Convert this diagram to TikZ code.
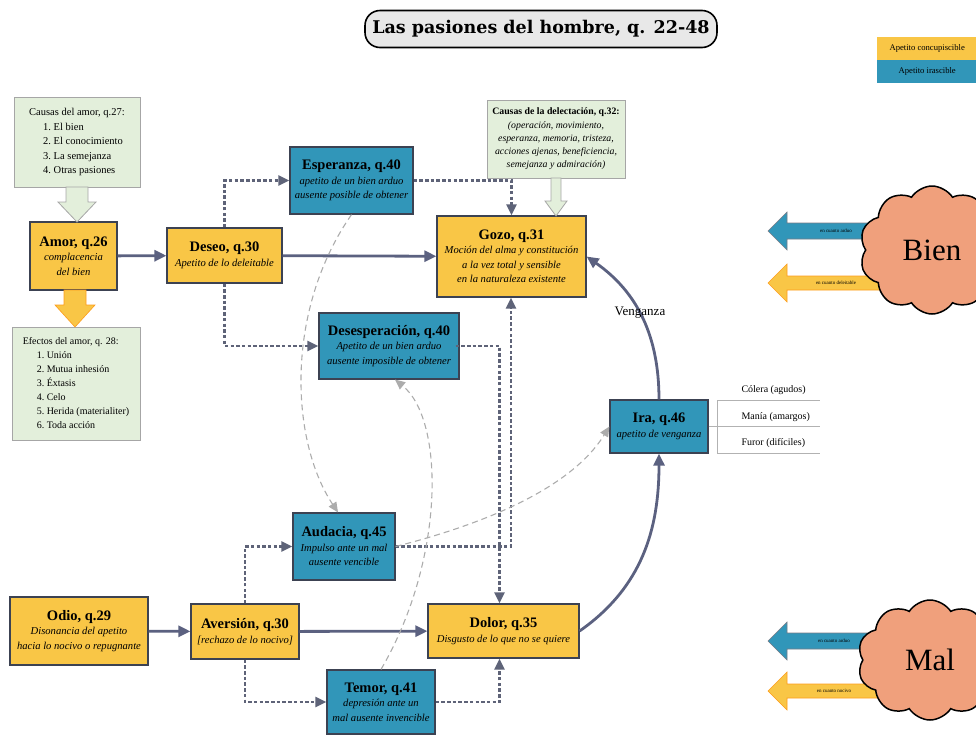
\documentclass[tikz,border=0pt]{standalone}
\usepackage{fontspec}
\setmainfont{Liberation Serif}
\newfontfamily\titlefont{DejaVu Serif}
\usetikzlibrary{arrows.meta,shapes.symbols,calc}
\definecolor{yel}{HTML}{F9C646}
\definecolor{blu}{HTML}{3196B9}
\definecolor{grn}{HTML}{E3EFDB}
\definecolor{bord}{HTML}{3C4252}
\definecolor{conn}{HTML}{5B6180}
\definecolor{dconn}{HTML}{5E6378}
\definecolor{salm}{HTML}{F0A07C}
\newcommand\hd[1]{{\fontsize{14.5}{17}\selectfont\bfseries #1}}
\newcommand\dsc[1]{{\itshape #1}}
\begin{document}
\begin{tikzpicture}[x=1pt,y=-1pt,
 box/.style={draw=bord,line width=1.2pt,align=center,inner sep=1pt,font=\fontsize{10.6}{14.5}\selectfont},
 ybox/.style={box,fill=yel},
 bbox/.style={box,fill=blu},
 gbox/.style={draw=gray!70,fill=grn,line width=0.8pt,align=left,inner sep=3pt,font=\fontsize{10.5}{14.5}\selectfont},
 solidarr/.style={draw=conn,line width=2.8pt,-{Triangle[length=12pt,width=11pt]}},
 dasharr/.style={draw=dconn,line width=2.4pt,dash pattern=on 3.5pt off 2.2pt,-{Triangle[length=11pt,width=10pt]}},
 thindash/.style={draw=gray!65,line width=1.1pt,dash pattern=on 6pt off 4pt,-{Triangle[length=10pt,width=9pt]}},
 sidelbl/.style={font=\fontsize{10}{11}\selectfont,anchor=west},
 tinylbl/.style={font=\fontsize{5}{6}\selectfont},
 legbox/.style={minimum width=100pt,minimum height=23pt,inner sep=0pt,font=\fontsize{8.6}{9}\selectfont,anchor=north west},
 blockbl/.style={draw=bord!70,fill=blu,line width=0.6pt},
 blocky/.style={draw=orange!60!yel,fill=yel,line width=0.6pt},
 pcloud/.style={cloud,cloud puffs=10,cloud puff arc=115,aspect=1.05,draw=black,line width=1.5pt,fill=salm,font=\fontsize{31}{33}\selectfont},
]
\useasboundingbox (0,0) rectangle (976,737);
\clip (0,0) rectangle (976,737);

% title
\node[draw=black,line width=1.6pt,fill=gray!18,rounded corners=15pt,minimum width=352pt,minimum height=37pt,font=\titlefont\bfseries\fontsize{17.5}{19}\selectfont] (title) at (541,29) {Las pasiones del hombre, q. 22-48};

% legend
\node[legbox,fill=yel] (leg1) at (877,37) {Apetito concupiscible};
\node[legbox,fill=blu] (leg2) at (877,60) {Apetito irascible};

% green boxes
\node[gbox,minimum width=126pt,minimum height=90pt] (causas) at (77,142) {Causas del amor, q.27:\\\hspace*{14pt}1.\ El bien\\\hspace*{14pt}2.\ El conocimiento\\\hspace*{14pt}3.\ La semejanza\\\hspace*{14pt}4.\ Otras pasiones};
\node[gbox,minimum width=128pt,minimum height=113pt,font=\fontsize{10}{14}\selectfont] (efectos) at (76,383.5) {Efectos del amor, q. 28:\\\hspace*{14pt}1.\ Unión\\\hspace*{14pt}2.\ Mutua inhesión\\\hspace*{14pt}3.\ Éxtasis\\\hspace*{14pt}4.\ Celo\\\hspace*{14pt}5.\ Herida (materialiter)\\\hspace*{14pt}6.\ Toda acción};
\node[gbox,align=center,minimum width=138pt,minimum height=78pt,inner sep=1pt,font=\fontsize{9.8}{13.2}\selectfont] (delect) at (556,139) {\textbf{Causas de la delectación, q.32:}\\\itshape(operación, movimiento,\\\itshape esperanza, memoria, tristeza,\\\itshape acciones ajenas, beneficiencia,\\\itshape semejanza y admiración)};

% main boxes
\node[ybox,minimum width=87pt,minimum height=68pt] (amor) at (73.5,256) {\hd{Amor, q.26}\\\dsc{complacencia}\\\dsc{del bien}};
\node[ybox,minimum width=115pt,minimum height=55pt] (deseo) at (224.5,255.5) {\hd{Deseo, q.30}\\\dsc{Apetito de lo deleitable}};
\node[bbox,minimum width=123pt,minimum height=67pt] (esper) at (351.5,180.5) {\hd{Esperanza, q.40}\\\dsc{apetito de un bien arduo}\\\dsc{ausente posible de obtener}};
\node[ybox,minimum width=149pt,minimum height=81pt] (gozo) at (511.5,256.5) {\hd{Gozo, q.31}\\\dsc{Moción del alma y constitución}\\\dsc{a la vez total y sensible}\\\dsc{en la naturaleza existente}};
\node[bbox,minimum width=140pt,minimum height=66pt] (desesp) at (389,346) {\hd{Desesperación, q.40}\\\dsc{Apetito de un bien arduo}\\\dsc{ausente imposible de obtener}};
\node[bbox,minimum width=98pt,minimum height=53pt] (ira) at (659,426.5) {\hd{Ira, q.46}\\\dsc{apetito de venganza}};
\node[bbox,minimum width=102pt,minimum height=67pt] (audacia) at (344,546.5) {\hd{Audacia, q.45}\\\dsc{Impulso ante un mal}\\\dsc{ausente vencible}};
\node[ybox,minimum width=138pt,minimum height=68pt] (odio) at (79,631) {\hd{Odio, q.29}\\\dsc{Disonancia del apetito}\\\dsc{hacia lo nocivo o repugnante}};
\node[ybox,minimum width=108pt,minimum height=55pt] (aversion) at (245,631.5) {\hd{Aversión, q.30}\\\dsc{[rechazo de lo nocivo]}};
\node[ybox,minimum width=151pt,minimum height=54pt] (dolor) at (503.5,631) {\hd{Dolor, q.35}\\\dsc{Disgusto de lo que no se quiere}};
\node[bbox,minimum width=108pt,minimum height=64pt] (temor) at (381,702) {\hd{Temor, q.41}\\\dsc{depresión ante un}\\\dsc{mal ausente invencible}};

% block arrows
\draw[draw=gray!70,fill=grn,line width=0.8pt] (66,187) -- (88,187) -- (88,202) -- (96,202) -- (77,222) -- (58,202) -- (66,202) -- cycle;
\draw[draw=gray!70,fill=grn,line width=0.8pt] (551,178) -- (561,178) -- (561,201) -- (567,201) -- (556,216) -- (545,201) -- (551,201) -- cycle;
\draw[blocky] (64,290) -- (86,290) -- (86,305) -- (95,305) -- (75,327) -- (55,305) -- (64,305) -- cycle;

% solid connectors
\draw[solidarr] (amor) -- (deseo);
\draw[solidarr] (deseo) -- (gozo);
\draw[solidarr] (odio) -- (aversion);
\draw[solidarr] (aversion) -- (dolor);
\draw[solidarr] (ira.north) to[out=90,in=-35] (gozo.east);
\draw[solidarr] (dolor.east) to[out=35,in=-90] (ira.south);
\node[font=\fontsize{13}{15}\selectfont] (veng) at (640,313) {Venganza};

% dashed connectors
\draw[dasharr] (deseo.north) |- (esper.west);
\draw[dasharr] (esper.east) -| (gozo.north);
\draw[dasharr] (deseo.south) |- (desesp.west);
\draw[dasharr] ([xshift=-4pt]desesp.east) -| ([xshift=-4pt]dolor.north);
\draw[dasharr] (audacia.east) -| ([xshift=-0.5pt]gozo.south);
\draw[dasharr] (aversion.north) |- (audacia.west);
\draw[dasharr] (aversion.south) |- (temor.west);
\draw[dasharr] (temor.east) -| ([xshift=-4pt]dolor.south);

% thin dashed curves
\draw[thindash] (esper.south) .. controls (285,310) and (290,440) .. ([xshift=-6pt]audacia.north);
\draw[thindash] (temor.north) .. controls (445,560) and (445,420) .. ([xshift=6pt]desesp.south);
\draw[thindash] (audacia.east) .. controls (480,525) and (570,490) .. (ira.west);

% ira branches
\coordinate (brt) at (717,400);
\coordinate (brm) at (717,426.5);
\coordinate (brb) at (717,453);
\draw[gray!60,line width=0.8pt] (ira.east) -- (brm);
\draw[gray!60,line width=0.8pt] (brt) -- (brb);
\draw[gray!60,line width=0.8pt] (brt) -- ++(103,0);
\draw[gray!60,line width=0.8pt] (brm) -- ++(103,0);
\draw[gray!60,line width=0.8pt] (brb) -- ++(103,0);
\node[sidelbl] (col) at (738,390) {Cólera (agudos)};
\node[sidelbl] (man) at (738,417) {Manía (amargos)};
\node[sidelbl] (fur) at (738,443) {Furor (difíciles)};

% Bien
\draw[blockbl] (768,231) -- (787,212) -- (787,223) -- (885,223) -- (885,239) -- (787,239) -- (787,250) -- cycle;
\draw[blocky] (768,283) -- (787,264) -- (787,276) -- (885,276) -- (885,290) -- (787,290) -- (787,302) -- cycle;
\node[tinylbl] (b1) at (836,231) {en cuanto arduo};
\node[tinylbl] (b2) at (836,283) {en cuanto deleitable};
\node[pcloud,minimum width=145pt,minimum height=128pt] (bien) at (932,250) {Bien};

% Mal
\draw[blockbl] (768,641) -- (787,622) -- (787,633) -- (885,633) -- (885,649) -- (787,649) -- (787,660) -- cycle;
\draw[blocky] (768,691) -- (787,672) -- (787,684) -- (885,684) -- (885,698) -- (787,698) -- (787,710) -- cycle;
\node[tinylbl] (m1) at (834,641) {en cuanto arduo};
\node[tinylbl] (m2) at (834,691) {en cuanto nocivo};
\node[pcloud,minimum width=145pt,minimum height=120pt] (mal) at (930,660) {Mal};
\end{tikzpicture}
\end{document}
